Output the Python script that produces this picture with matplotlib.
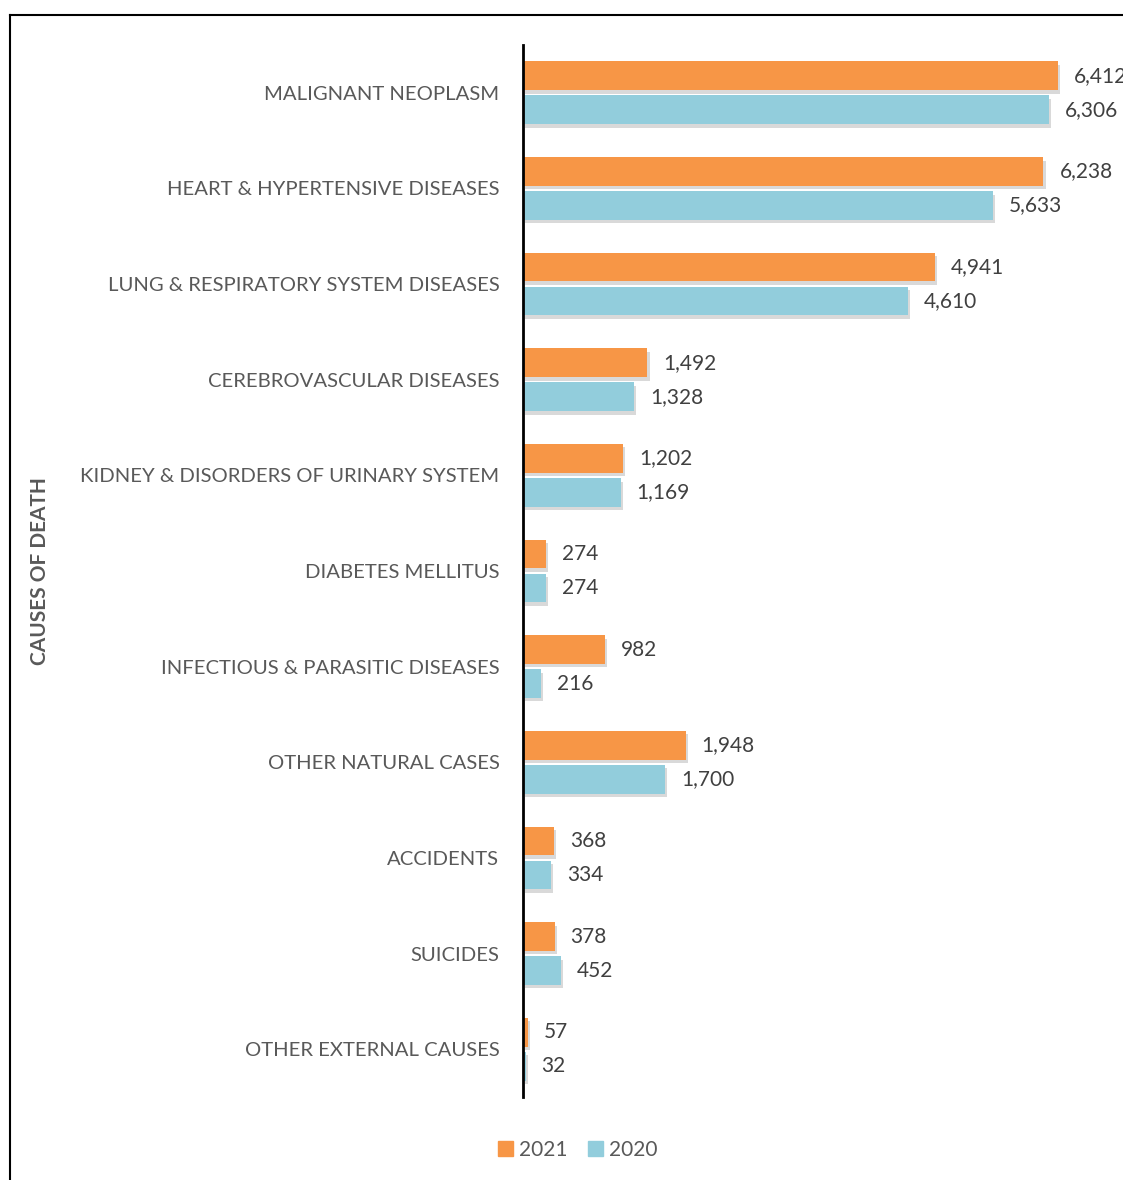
import numpy as np
import matplotlib
matplotlib.use("Agg")
import matplotlib.pyplot as plt
import matplotlib.patheffects as pe
from matplotlib.lines import Line2D
from matplotlib.patches import Patch

plt.rcParams['font.family'] = ['Lato', 'DejaVu Sans']

causes = ["MALIGNANT NEOPLASM", "HEART & HYPERTENSIVE DISEASES",
          "LUNG & RESPIRATORY SYSTEM DISEASES", "CEREBROVASCULAR DISEASES",
          "KIDNEY & DISORDERS OF URINARY SYSTEM", "DIABETES MELLITUS",
          "INFECTIOUS & PARASITIC DISEASES", "OTHER NATURAL CASES",
          "ACCIDENTS", "SUICIDES", "OTHER EXTERNAL CAUSES"]
deaths_2021 = [6412, 6238, 4941, 1492, 1202, 274, 982, 1948, 368, 378, 57]
deaths_2020 = [6306, 5633, 4610, 1328, 1169, 274, 216, 1700, 334, 452, 32]

c21 = "#F79646"
c20 = "#92CDDC"
grey = "#595959"

W, H = 1123, 1180
fig = plt.figure(figsize=(W / 100, H / 100), dpi=100)
# axes runs off the right edge, like the cropped original
ax = fig.add_axes([523 / W, 1 - 1097 / H, 680 / W, (1097 - 45) / H])

y = np.arange(len(causes))
shadow = [pe.SimplePatchShadow(offset=(1.5, -2.5), shadow_rgbFace="#000000", alpha=0.15), pe.Normal()]
b21 = ax.barh(y - 0.178, deaths_2021, height=0.30, color=c21, path_effects=shadow)
b20 = ax.barh(y + 0.178, deaths_2020, height=0.30, color=c20, path_effects=shadow)

for bars, vals in ((b21, deaths_2021), (b20, deaths_2020)):
    for b, v in zip(bars, vals):
        ax.annotate(f"{v:,}", (v, b.get_y() + b.get_height() / 2), xytext=(11.5, 0),
                    textcoords="offset points", va="center", ha="left",
                    fontsize=15, color="#404040", clip_on=False, annotation_clip=False)

ax.set_ylim(len(causes) - 0.5, -0.5)
ax.set_xlim(0, 680 / 0.08344)
ax.set_yticks(y)
ax.set_yticklabels(causes, fontsize=14.6, color=grey)
ax.tick_params(axis="y", length=0, pad=17)
ax.set_xticks([])
for s in ["top", "right", "bottom"]:
    ax.spines[s].set_visible(False)
ax.spines["left"].set_linewidth(2)
ax.spines["left"].set_color("black")

fig.text(40 / W, 1 - 571 / H, "CAUSES OF DEATH", rotation=90, ha="center", va="center",
         fontsize=15, fontweight="bold", color=grey)

handles = [Patch(color=c21), Patch(color=c20)]
fig.legend(handles=handles, labels=["2021", "2020"], loc="center",
           bbox_to_anchor=(578 / W, 1 - 1150 / H), ncol=2, frameon=False,
           fontsize=15, handlelength=0.7, handleheight=0.7, handletextpad=0.3,
           columnspacing=1.0, labelcolor=grey)

# outer frame (top and left edges visible)
fig.add_artist(Line2D([10 / W, 10 / W], [0, 1 - 15 / H], color="black", lw=1.5, transform=fig.transFigure))
fig.add_artist(Line2D([10 / W, 1], [1 - 15 / H, 1 - 15 / H], color="black", lw=1.5, transform=fig.transFigure))

fig.savefig("out.png", dpi=100)
